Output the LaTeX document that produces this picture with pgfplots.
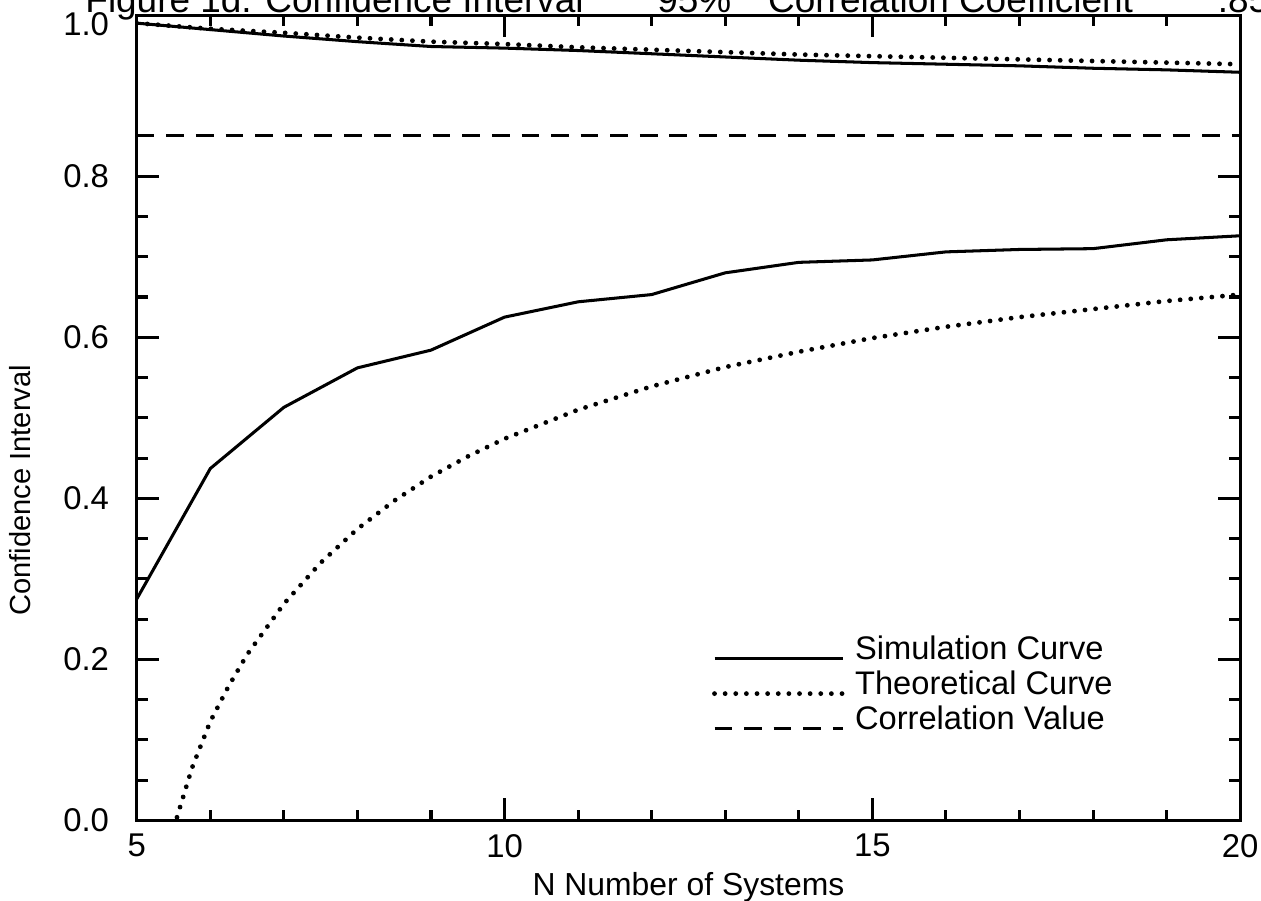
\documentclass[border=0pt]{standalone}
\usepackage{pgfplots}
\pgfplotsset{compat=1.18}
\usepackage{fontspec}
\setmainfont{Liberation Sans}
\usetikzlibrary{calc}

\begin{document}
\begin{tikzpicture}
\begin{axis}[
  name=ax,
  scale only axis, width=15.33cm, height=11.19cm,
  xmin=5, xmax=20, ymin=0, ymax=1,
  xtick={5,10,15,20}, minor x tick num=4,
  ytick={0,0.2,0.4,0.6,0.8}, minor y tick num=3,
  extra y ticks={1.0},
  extra y tick style={yticklabel style={yshift=-3.5pt}},
  /pgf/number format/assume math mode=true,
  yticklabel style={/pgf/number format/fixed, /pgf/number format/fixed zerofill, /pgf/number format/precision=1, anchor=center, xshift=-20pt},
  xticklabel style={anchor=center, yshift=-10pt},
  tick align=inside, major tick length=8.7pt, minor tick length=4.3pt,
  axis line style={line width=1.2pt},
  every tick/.style={black, line width=1.2pt},
  tick label style={font=\fontsize{13}{15}\selectfont},
  xlabel={N Number of Systems},
  ylabel={Confidence Interval},
  every axis x label/.style={at={(axis description cs:0.5,-0.083)}, anchor=center, font=\fontsize{12.6}{14}\selectfont},
  every axis y label/.style={at={(axis description cs:-0.106,0.41)}, anchor=center, rotate=90, font=\fontsize{11.5}{14}\selectfont},
  legend style={draw=none, fill=none, at={(rel axis cs:0.521,0.232)}, anchor=north west, inner sep=0pt,
    font=\fontsize{12.9}{15}\selectfont, row sep=0.8pt,
    nodes={inner sep=0pt, text height=10pt, text depth=3pt},
    /tikz/every odd column/.append style={column sep=4pt}},
  legend cell align=left,
  legend image code/.code={\draw[#1] (0cm,-3.2pt) -- (1.78cm,-3.2pt);},
]
\addplot[black, line width=1.2pt] coordinates {
(5,0.275) (6,0.437) (7,0.513) (8,0.562) (9,0.584) (10,0.625) (11,0.644) (12,0.653)
(13,0.680) (14,0.693) (15,0.696) (16,0.706) (17,0.709) (18,0.710) (19,0.721) (20,0.726)};
\addlegendentry{Simulation Curve}
\addplot[black, line width=1.9pt, line cap=round, dash pattern=on 0pt off 4.2pt] coordinates {
(5,-0.160) (5.25,-0.080) (5.5,-0.010) (5.75,0.065) (6,0.123) (6.25,0.167) (6.5,0.206) (7,0.269)
(7.5,0.320) (8,0.362) (8.5,0.397) (9,0.427) (9.5,0.452) (10,0.474) (11,0.510) (12,0.539)
(13,0.563) (14,0.582) (15,0.599) (16,0.613) (17,0.625) (18,0.635) (19,0.645) (20,0.653)};
\addlegendentry{Theoretical Curve}
\addplot[black, line width=1.2pt, dash pattern=on 7pt off 4.7pt] coordinates {(5,0.85) (20,0.85)};
\addlegendentry{Correlation Value}
\addplot[black, line width=1.2pt, forget plot] coordinates {
(5,0.990) (6,0.982) (7,0.974) (8,0.967) (9,0.961) (10,0.959) (11,0.956) (12,0.952)
(13,0.948) (14,0.944) (15,0.941) (16,0.939) (17,0.937) (18,0.934) (19,0.932) (20,0.929)};
\addplot[black, line width=1.9pt, line cap=round, dash pattern=on 0pt off 4.2pt, forget plot] coordinates {
(5,0.990) (6,0.983) (7,0.978) (8,0.972) (9,0.967) (10,0.964) (11,0.960) (12,0.957)
(13,0.954) (14,0.951) (15,0.949) (16,0.947) (17,0.945) (18,0.943) (19,0.941) (20,0.939)};
\end{axis}
\node[anchor=base west, font=\fontsize{14.6}{17}\selectfont, inner sep=0pt] at ($(ax.north west)+(-0.72cm,0.03cm)$)
  {Figure 1d. Confidence Interval\hspace{2em}95\%\hspace{1em}Correlation Coefficient\hspace{2.3em}.85};
\pgfresetboundingbox
\path[use as bounding box] ($(ax.south west)+(-1.90cm,-1.11cm)$) rectangle ($(ax.north east)+(0.29cm,0.21cm)$);
\end{tikzpicture}
\end{document}
